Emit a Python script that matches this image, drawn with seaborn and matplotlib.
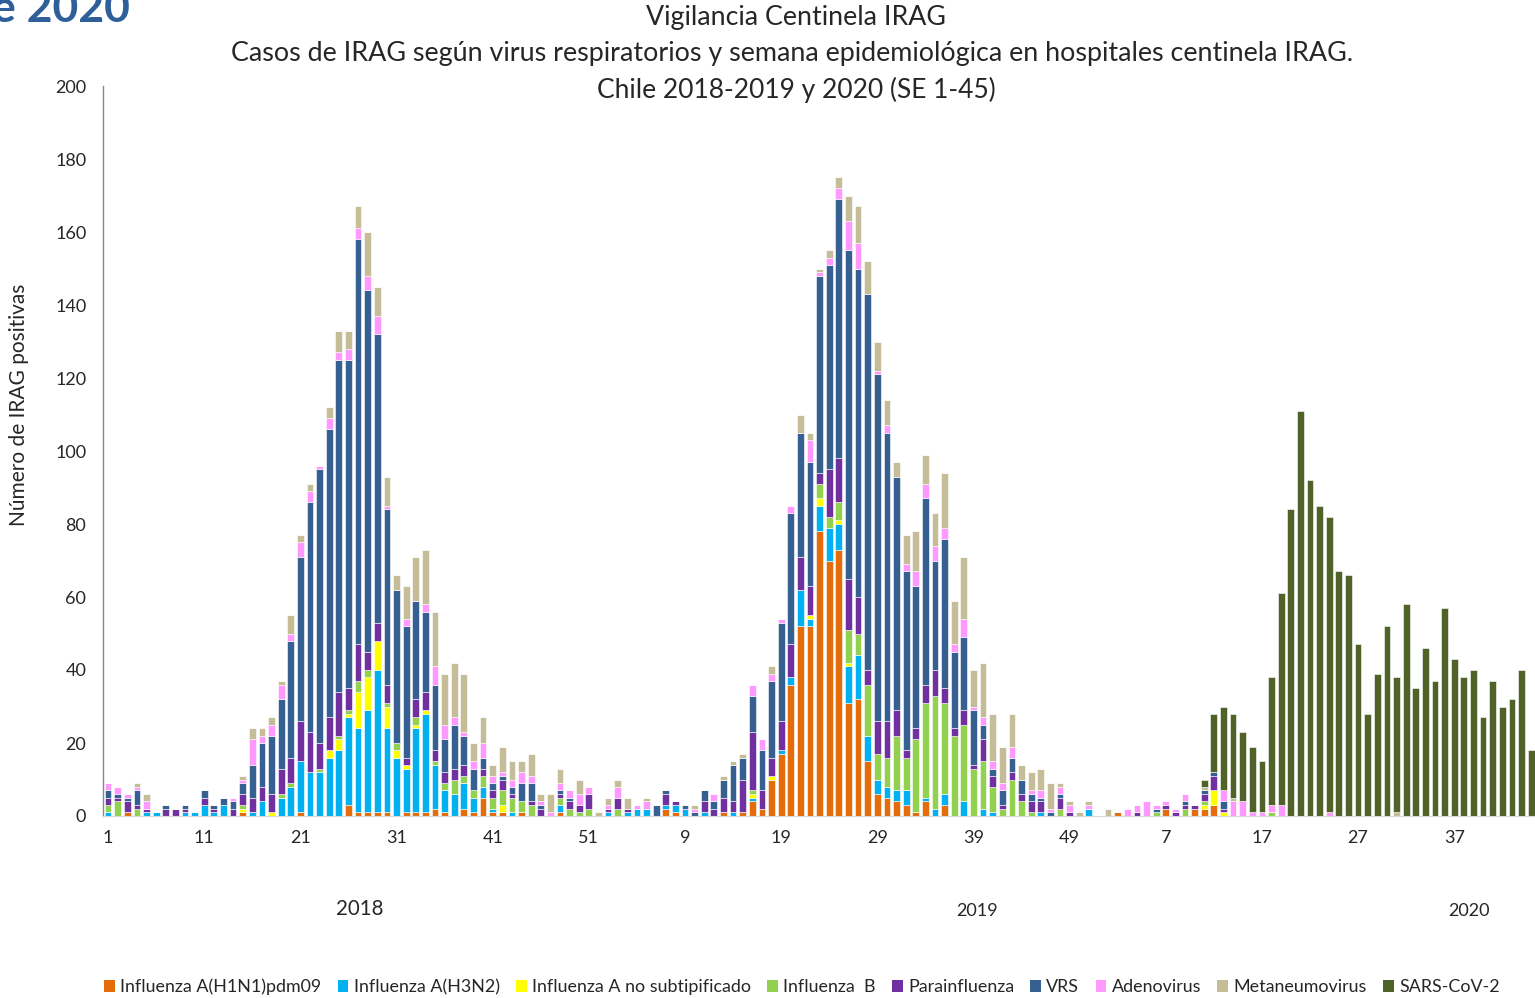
import numpy as np
import pandas as pd
import matplotlib
matplotlib.use("Agg")
import matplotlib.pyplot as plt
import seaborn as sns
from matplotlib.patches import Patch

# epidemiological weeks: 2018 (1-52), 2019 (1-52), 2020 (1-45)
weeks_2018 = list(range(1, 53))
weeks_2019 = list(range(1, 53))
weeks_2020 = list(range(1, 46))
week_labels = weeks_2018 + weeks_2019 + weeks_2020

# cases per week, one list per virus (2018 | 2019 | 2020)
h1n1 = [
    0,0,1,0,0,0,0,0,0,0, 0,0,0,0,1,0,0,0,0,0, 1,0,0,0,0,3,1,1,1,1, 0,1,1,1,2,1,0,2,1,5, 1,1,0,1,0,0,0,1,0,0, 0,0,
    0,0,0,0,0,0,2,1,0,0, 0,0,1,0,1,4,2,10,17,36, 52,52,78,70,73,31,32,15,6,5, 4,3,1,4,0,3,0,0,0,0, 0,0,0,0,0,0,0,0,0,0, 0,0,
    0,1,0,0,0,0,2,0,0,2, 2,3,0,0,0,0,0,0,0,0, 0,0,0,0,0,0,0,0,0,0, 0,0,0,0,0,0,0,0,0,0, 0,0,0,0,0,
]
h3n2 = [
    1,0,0,0,1,1,0,0,1,1, 3,1,3,0,0,1,4,0,5,8, 14,12,12,16,18,24,23,28,39,23, 16,12,23,27,12,6,6,7,4,3, 1,0,1,0,0,0,0,2,0,0, 0,0,
    1,0,1,2,2,0,1,2,2,0, 1,0,0,1,0,1,0,0,1,2, 10,2,7,9,7,10,12,7,4,3, 3,4,0,1,2,3,0,4,0,2, 1,0,0,0,0,1,0,0,0,0, 2,0,
    0,0,0,0,0,0,0,0,0,0, 0,0,0,0,0,0,0,0,0,0, 0,0,0,0,0,0,0,0,0,0, 0,0,0,0,0,0,0,0,0,0, 0,0,0,0,0,
]
flu_a_ns = [
    0,0,0,0,0,0,0,0,0,0, 0,0,0,0,1,0,0,1,0,0, 0,0,0,2,3,1,10,9,8,6, 2,1,1,1,0,0,0,0,0,0, 0,2,0,0,0,0,0,0,0,0, 0,0,
    0,0,0,0,0,0,0,0,0,0, 0,0,0,0,0,1,0,1,0,0, 0,1,2,0,1,1,0,0,0,0, 0,0,0,0,0,0,0,0,0,0, 0,0,0,0,0,0,0,0,0,0, 0,0,
    0,0,0,0,0,0,0,0,0,0, 1,4,1,0,0,0,0,0,0,0, 0,0,0,0,0,0,0,0,0,0, 0,0,0,0,0,0,0,0,0,0, 0,0,0,0,0,
]
flu_b = [
    2,4,0,2,0,0,0,0,0,0, 0,0,0,0,1,0,0,0,1,1, 0,0,1,0,1,1,3,2,0,1, 2,0,2,0,1,2,4,2,2,3, 3,4,4,3,3,0,0,2,2,1, 2,0,
    0,2,0,0,0,0,0,0,0,0, 0,0,0,0,0,1,0,0,0,0, 0,0,4,3,5,9,6,14,7,8, 15,9,20,26,31,25,22,21,13,13, 7,2,10,4,1,0,0,2,0,0, 0,0,
    0,0,0,0,0,1,0,0,2,0, 1,0,0,0,0,0,0,1,0,0, 0,0,0,0,0,0,0,0,0,0, 0,0,0,0,0,0,0,0,0,0, 0,0,0,0,0,
]
parainfluenza = [
    2,1,3,1,1,0,2,2,1,0, 2,1,0,2,3,4,4,5,7,7, 11,11,7,9,12,6,10,5,5,5, 0,2,5,5,3,3,3,3,0,2, 2,3,1,0,1,2,0,1,2,2, 4,0,
    1,3,1,0,0,0,3,1,0,0, 3,2,4,3,9,16,5,5,8,9, 9,8,3,13,12,14,10,4,9,10, 7,2,3,5,7,4,2,4,1,6, 3,1,2,2,3,3,0,3,1,0, 0,0,
    0,0,0,1,0,0,1,1,1,1, 2,4,1,0,0,0,0,0,0,0, 0,0,0,0,0,0,0,0,0,0, 0,0,0,0,0,0,0,0,0,0, 0,0,0,0,0,
]
vrs = [
    2,1,1,4,0,0,1,0,1,0, 2,1,2,2,3,9,12,16,19,32, 45,63,75,79,91,90,111,99,79,48, 42,36,27,22,18,9,12,8,6,3, 2,1,2,5,5,1,0,1,1,0, 0,0,
    0,0,0,0,0,3,1,0,1,1, 3,2,5,10,6,10,11,21,27,36, 34,34,54,56,71,90,90,103,95,79, 64,49,39,51,30,41,21,20,15,4, 2,4,4,4,2,1,1,1,0,0, 0,0,
    0,0,0,0,0,1,0,0,1,0, 1,1,2,0,0,0,0,0,0,0, 0,0,0,0,0,0,0,0,0,0, 0,0,0,0,0,0,0,0,0,0, 0,0,0,0,0,
]
adenovirus = [
    2,2,1,1,2,0,0,0,0,0, 0,0,0,1,1,7,2,3,4,2, 4,3,1,3,2,3,3,4,5,1, 0,2,0,2,5,4,2,1,2,4, 2,1,2,3,2,1,1,2,2,3, 2,0,
    1,3,0,1,2,0,0,0,0,1, 0,2,0,0,0,3,3,2,1,2, 0,6,1,2,3,8,7,0,1,2, 0,2,4,4,4,3,2,5,1,2, 2,2,3,0,1,2,1,2,2,0, 1,0,
    0,0,2,2,4,1,1,1,2,0, 0,0,3,4,4,1,1,2,3,0, 0,0,0,1,0,0,0,0,0,0, 0,0,0,0,0,0,0,0,0,0, 0,0,0,0,0,
]
metapneumovirus = [
    0,0,0,1,2,0,0,0,0,0, 0,0,0,0,1,3,2,2,1,5, 2,2,0,3,6,5,6,12,8,8, 4,9,12,15,15,14,15,16,5,7, 3,7,5,3,6,2,5,4,0,4, 0,1,
    2,2,3,0,1,0,0,0,0,1, 0,0,1,1,1,0,0,2,0,0, 5,2,1,2,3,7,10,9,8,7, 4,8,11,8,9,15,12,17,10,15, 13,10,9,4,5,6,7,1,1,1, 1,0,
    2,0,0,0,0,0,0,0,0,0, 1,0,0,1,0,0,0,0,0,0, 0,0,0,0,0,0,0,0,0,0, 1,0,0,0,0,0,0,0,0,0, 0,0,0,0,0,
]
sars_cov2 = [0] * 52 + [0] * 52 + [
    0,0,0,0,0,0,0,0,0,0, 2,16,23,23,19,18,14,35,58,84, 111,92,85,81,67,66,47,28,39,52,
    37,58,35,46,37,57,43,38,40,27, 37,30,32,40,18,
]

virus_names = ["Influenza A(H1N1)pdm09", "Influenza A(H3N2)", "Influenza A no subtipificado",
               "Influenza  B", "Parainfluenza", "VRS", "Adenovirus", "Metaneumovirus", "SARS-CoV-2"]
series = [h1n1, h3n2, flu_a_ns, flu_b, parainfluenza, vrs, adenovirus, metapneumovirus, sars_cov2]
colors = ["#E46C0A", "#00B0F0", "#FFFF00", "#92D050", "#7030A0", "#366092", "#FF99FF", "#C4BD97", "#4F6228"]

n_weeks = len(week_labels)
pos = np.arange(n_weeks)
df = pd.DataFrame({
    "pos": np.tile(pos, len(series)),
    "virus": np.repeat(virus_names, n_weeks),
    "n": np.concatenate([np.array(s) for s in series]),
})

W, H = 1535, 998
def fx(x):
    return x / W
def fy(y):
    return 1 - y / H

sns.set_style("white")
plt.rcParams["font.family"] = ["Lato", "DejaVu Sans"]

fig = plt.figure(figsize=(W / 100, H / 100), dpi=100)
ax = fig.add_axes([fx(103), fy(816), (W - 103) / W, (816 - 86) / H])

palette = dict(zip(virus_names, colors))
# seaborn stacks the last hue level at the bottom, so reverse the order
sns.histplot(data=df, x="pos", weights="n", hue="virus", hue_order=virus_names[::-1],
             palette=palette, multiple="stack", discrete=True, shrink=0.7,
             edgecolor="white", linewidth=0.4, alpha=1, legend=False, ax=ax)

ax.set_xlim(-0.53, 148.4)
ax.set_ylim(0, 200)
ax.set_yticks(range(0, 201, 20))
ticks = pos[::10]
ax.set_xticks(ticks)
ax.set_xticklabels([str(week_labels[i]) for i in ticks])
ax.tick_params(axis="both", length=0, labelsize=13)
ax.tick_params(axis="y", pad=12)
ax.tick_params(axis="x", pad=10)
ax.set_xlabel("")
ax.set_ylabel("Número de IRAG positivas", fontsize=15)
ax.yaxis.set_label_coords(-0.052, 0.563)

for side in ["top", "right"]:
    ax.spines[side].set_visible(False)
ax.spines["left"].set_color("#868686")
ax.spines["left"].set_linewidth(1)
ax.spines["bottom"].set_color("#D9D9D9")
ax.spines["bottom"].set_linewidth(0.8)

# titles
fig.text(fx(796), fy(18), "Vigilancia Centinela IRAG", ha="center", va="center", fontsize=19.3)
fig.text(fx(792), fy(53), "Casos de IRAG según virus respiratorios y semana epidemiológica en hospitales centinela IRAG.",
         ha="center", va="center", fontsize=19.4)
fig.text(fx(796), fy(90), "Chile 2018-2019 y 2020 (SE 1-45)", ha="center", va="center", fontsize=19)

# slide heading fragment
fig.text(fx(-8), fy(22), "e 2020", ha="left", va="baseline", fontsize=32,
         fontweight="bold", color="#2E5F99")

# year labels
fig.text(fx(360), fy(909), "2018", ha="center", va="center", fontsize=14.8)
fig.text(fx(977), fy(911), "2019", ha="center", va="center", fontsize=13)
fig.text(fx(1469), fy(911), "2020", ha="center", va="center", fontsize=13)

handles = [Patch(facecolor=c, edgecolor="none", label=n) for n, c in zip(virus_names, colors)]
fig.legend(handles=handles, loc="center", bbox_to_anchor=(fx(802), fy(987)), ncol=9,
           frameon=False, fontsize=12.9, handlelength=0.6, handleheight=0.6,
           handletextpad=0.3, columnspacing=0.9)

fig.savefig("out.png", dpi=100)
